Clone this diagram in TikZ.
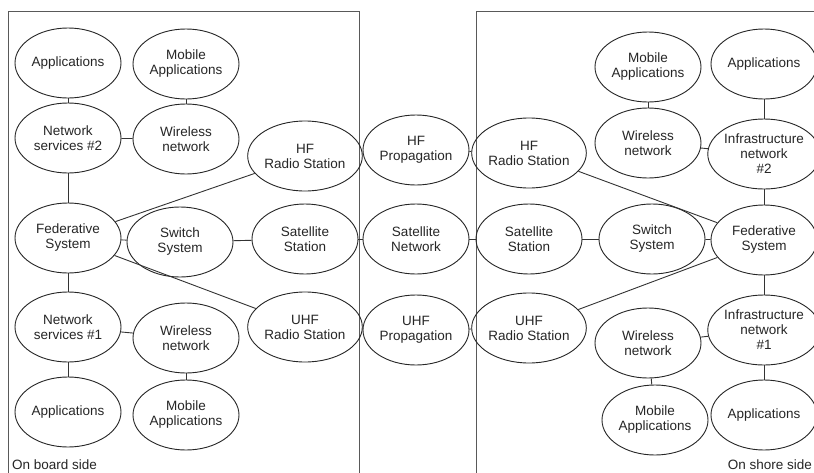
\documentclass[tikz,border=0pt]{standalone}
\usepackage{fontspec}
\setmainfont{Liberation Sans}
\usetikzlibrary{shapes.geometric}
\begin{document}
\begin{tikzpicture}[x=1pt,y=-1pt,
  el/.style={draw=black!85, line width=0.9pt, ellipse, minimum width=106pt, minimum height=70pt, inner sep=0pt, align=center, font=\fontsize{13.5}{15}\selectfont, text=black!85},
  ln/.style={draw=black!80, line width=0.9pt},
  frame/.style={draw=black!65, line width=1pt},
  lbl/.style={font=\fontsize{13.5}{15}\selectfont, text=black!85, inner sep=0pt}]
\useasboundingbox (0,0) rectangle (814,472);
\fill[white] (0,0) rectangle (814,472);
% frames
\draw[frame] (8,480) -- (8,11) -- (359,11) -- (359,480);
\draw[frame] (476,480) -- (476,11) -- (820,11);
% left side
\node[el] (lapp2) at (68,63) {Applications};
\node[el] (lmob2) at (186,64) {Mobile\\Applications};
\node[el] (lns2) at (68,138) {Network\\services \#2};
\node[el] (lwl2) at (186,139) {Wireless\\network};
\node[el] (lhf) at (305,156) {HF\\Radio Station};
\node[el] (lfed) at (68,238) {Federative\\System};
\node[el] (lsw) at (180,242) {Switch\\System};
\node[el] (lsat) at (305,239) {Satellite\\Station};
\node[el] (lns1) at (68,327) {Network\\services \#1};
\node[el] (lwl1) at (186,338) {Wireless\\network};
\node[el] (luhf) at (305,327) {UHF\\Radio Station};
\node[el] (lapp1) at (68,412) {Applications};
\node[el] (lmob1) at (186,415) {Mobile\\Applications};
% middle
\node[el] (mhf) at (416,150) {HF\\Propagation};
\node[el] (msat) at (416,239) {Satellite\\Network};
\node[el] (muhf) at (416,330) {UHF\\Propagation};
% right side
\node[el] (rmob2) at (648,67) {Mobile\\Applications};
\node[el] (rapp2) at (764,64) {Applications};
\node[el] (rwl2) at (648,143) {Wireless\\network};
\node[el] (rin2) at (764,154) {Infrastructure\\network\\\#2};
\node[el] (rhf) at (529,153) {HF\\Radio Station};
\node[el] (rsat) at (529,239) {Satellite\\Station};
\node[el] (rsw) at (652,239) {Switch\\System};
\node[el] (rfed) at (764,240) {Federative\\System};
\node[el] (ruhf) at (529,328) {UHF\\Radio Station};
\node[el] (rwl1) at (648,343) {Wireless\\network};
\node[el] (rin1) at (764,330) {Infrastructure\\network\\\#1};
\node[el] (rmob1) at (655,420) {Mobile\\Applications};
\node[el] (rapp1) at (764,415) {Applications};
% labels
\node[lbl, anchor=west] (lside) at (12,465) {On board side};
\node[lbl, anchor=east] (rside) at (812,465) {On shore side};
% left edges
\draw[ln] (lapp2) -- (lns2);
\draw[ln] (lmob2) -- (lwl2);
\draw[ln] (lns2) -- (lwl2);
\draw[ln] (lns2) -- (lfed);
\draw[ln] (lfed) -- (lhf);
\draw[ln] (lfed) -- (lsw);
\draw[ln] (lsw) -- (lsat);
\draw[ln] (lfed) -- (luhf);
\draw[ln] (lfed) -- (lns1);
\draw[ln] (lns1) -- (lwl1);
\draw[ln] (lns1) -- (lapp1);
\draw[ln] (lwl1) -- (lmob1);
% middle edges
\draw[ln] (lhf) -- (mhf);
\draw[ln] (mhf) -- (rhf);
\draw[ln] (lsat) -- (msat);
\draw[ln] (msat) -- (rsat);
\draw[ln] (luhf) -- (muhf);
\draw[ln] (muhf) -- (ruhf);
% right edges
\draw[ln] (rmob2) -- (rwl2);
\draw[ln] (rapp2) -- (rin2);
\draw[ln] (rwl2) -- (rin2);
\draw[ln] (rin2) -- (rfed);
\draw[ln] (rhf) -- (rfed);
\draw[ln] (rsat) -- (rsw);
\draw[ln] (rsw) -- (rfed);
\draw[ln] (rfed) -- (ruhf);
\draw[ln] (rfed) -- (rin1);
\draw[ln] (rwl1) -- (rin1);
\draw[ln] (rwl1) -- (rmob1);
\draw[ln] (rin1) -- (rapp1);
\end{tikzpicture}
\end{document}
